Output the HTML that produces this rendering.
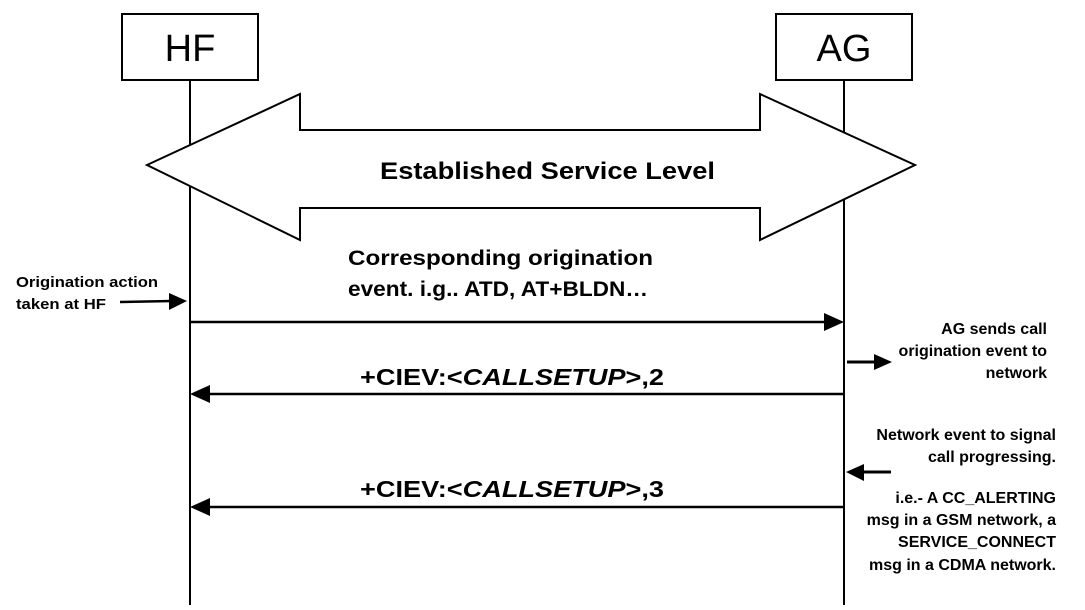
<!DOCTYPE html>
<html><head><style>
body{margin:0;background:#fff;}
</style></head><body>
<svg width="1085" height="605" xmlns="http://www.w3.org/2000/svg" font-family="Liberation Sans, Arial, sans-serif">
<rect width="1085" height="605" fill="#fff"/>
<rect x="122" y="14" width="136" height="66" fill="#fff" stroke="#000" stroke-width="2"/>
<rect x="776" y="14" width="136" height="66" fill="#fff" stroke="#000" stroke-width="2"/>
<text x="190" y="61" font-size="38" text-anchor="middle">HF</text>
<text x="844" y="61" font-size="38" text-anchor="middle">AG</text>
<line x1="190" y1="80" x2="190" y2="605" stroke="#000" stroke-width="2"/>
<line x1="844" y1="80" x2="844" y2="605" stroke="#000" stroke-width="2"/>
<polygon points="147,165 300,94 300,130 760,130 760,94 915,165 760,240 760,208 300,208 300,240" fill="#fff" stroke="#000" stroke-width="2"/>
<text x="380" y="179" font-size="24" font-weight="bold" textLength="335" lengthAdjust="spacingAndGlyphs">Established Service Level</text>
<text x="348" y="265" font-size="21" font-weight="bold" textLength="305" lengthAdjust="spacingAndGlyphs">Corresponding origination</text>
<text x="348" y="296" font-size="21" font-weight="bold" textLength="300" lengthAdjust="spacingAndGlyphs">event. i.g.. ATD, AT+BLDN…</text>
<line x1="190" y1="322" x2="826" y2="322" stroke="#000" stroke-width="2.5"/>
<polygon points="844,322 824,313 824,331" fill="#000"/>
<text x="360" y="385" font-size="23" font-weight="bold" textLength="304" lengthAdjust="spacingAndGlyphs">+CIEV:&lt;<tspan font-style="italic">CALLSETUP</tspan>&gt;,2</text>
<line x1="208" y1="394" x2="844" y2="394" stroke="#000" stroke-width="2.5"/>
<polygon points="190,394 210,385 210,403" fill="#000"/>
<text x="360" y="497" font-size="23" font-weight="bold" textLength="304" lengthAdjust="spacingAndGlyphs">+CIEV:&lt;<tspan font-style="italic">CALLSETUP</tspan>&gt;,3</text>
<line x1="208" y1="507" x2="844" y2="507" stroke="#000" stroke-width="2.5"/>
<polygon points="190,507 210,498 210,516" fill="#000"/>
<g font-size="15" font-weight="bold">
<text x="16" y="287" textLength="142" lengthAdjust="spacingAndGlyphs">Origination action</text>
<text x="16" y="309" textLength="90" lengthAdjust="spacingAndGlyphs">taken at HF</text>
</g>
<line x1="120" y1="302" x2="172" y2="301" stroke="#000" stroke-width="2.5"/>
<polygon points="187,301 169,293 169,310" fill="#000"/>
<g font-size="16" font-weight="bold" text-anchor="end">
<text x="1047" y="334">AG sends call</text>
<text x="1047" y="356">origination event to</text>
<text x="1047" y="378">network</text>
<text x="1056" y="440">Network event to signal</text>
<text x="1056" y="462">call progressing.</text>
<text x="1056" y="503">i.e.- A CC_ALERTING</text>
<text x="1056" y="525">msg in a GSM network, a</text>
<text x="1056" y="547">SERVICE_CONNECT</text>
<text x="1056" y="570">msg in a CDMA network.</text>
</g>
<line x1="847" y1="362" x2="876" y2="362" stroke="#000" stroke-width="3"/>
<polygon points="892,362 874,354 874,370" fill="#000"/>
<line x1="862" y1="472" x2="891" y2="472" stroke="#000" stroke-width="3"/>
<polygon points="846,472 864,464 864,481" fill="#000"/>
</svg>
</body></html>
